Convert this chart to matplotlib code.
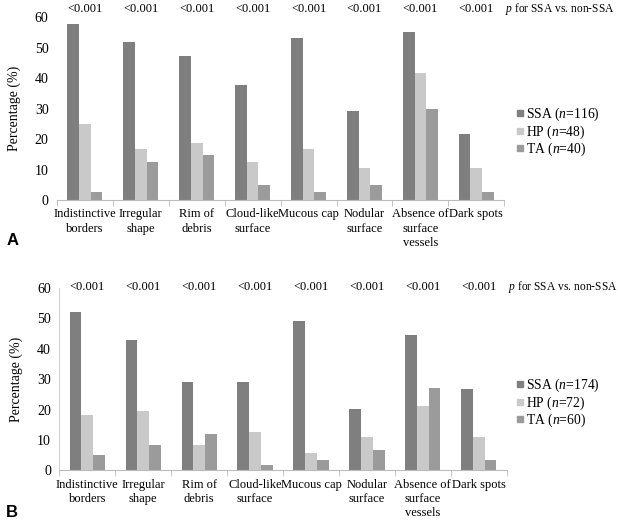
import numpy as np
import matplotlib
matplotlib.use("Agg")
import matplotlib.pyplot as plt
from matplotlib.lines import Line2D

plt.rcParams['font.family'] = ['Liberation Serif', 'DejaVu Serif']
plt.rcParams['mathtext.fontset'] = 'custom'
plt.rcParams['mathtext.rm'] = 'Liberation Serif'
plt.rcParams['mathtext.it'] = 'Liberation Serif:italic'

categories = ["Indistinctive\nborders", "Irregular\nshape", "Rim of\ndebris",
              "Cloud-like\nsurface", "Mucous cap", "Nodular\nsurface",
              "Absence of\nsurface\nvessels", "Dark spots"]
p_values = ["<0.001"] * 8

# panel A
ssa_a = [57.8, 51.7, 47.4, 37.8, 53.3, 29.3, 55.3, 21.6]
hp_a = [25.0, 16.6, 18.8, 12.4, 16.6, 10.4, 41.7, 10.4]
ta_a = [2.5, 12.4, 14.9, 4.9, 2.5, 5.0, 30.0, 2.5]
labels_a = ["SSA ($n$=116)", "HP ($n$=48)", "TA ($n$=40)"]

# panel B
ssa_b = [51.9, 42.8, 28.9, 28.9, 49.2, 20.2, 44.5, 26.6]
hp_b = [18.3, 19.6, 8.4, 12.6, 5.7, 11.1, 21.0, 11.1]
ta_b = [5.1, 8.4, 11.8, 1.7, 3.4, 6.8, 26.9, 3.4]
labels_b = ["SSA ($n$=174)", "HP ($n$=72)", "TA ($n$=60)"]

colors = ["#7f7f7f", "#c9c9c9", "#9b9b9b"]

fig = plt.figure(figsize=(6.18, 5.21), dpi=100)


def panel(rect, series, labels, letter, letter_y, leg_y, spine_left, p_y):
    ax = fig.add_axes(rect)
    x = np.arange(len(categories))
    w = 0.21
    for i, vals in enumerate(series):
        ax.bar(x + (i - 1) * w, vals, w, color=colors[i], linewidth=0)
    ax.set_xlim(-0.5, len(categories) - 0.5)
    ax.set_ylim(0, 60)
    ax.set_yticks(range(0, 61, 10))
    ax.set_xticks(x)
    ax.set_xticklabels(categories, fontsize=9, linespacing=1.25, va='top')
    ax.tick_params(axis='x', length=0, pad=6)
    ax.set_xticks(np.arange(-0.5, len(categories)), minor=True)
    ax.tick_params(axis='x', which='minor', length=4, color='#bbbbbb', direction='out')
    ax.tick_params(axis='y', length=0, labelsize=10, pad=6)
    for s in ['top', 'right']:
        ax.spines[s].set_visible(False)
    ax.spines['left'].set_visible(spine_left)
    ax.spines['left'].set_color('#d0d0d0')
    ax.spines['bottom'].set_color('#bbbbbb')
    ax.set_ylabel("Percentage (%)", fontsize=10, labelpad=10)
    for xi, p in zip(x, p_values):
        ax.text(xi, p_y, p, ha='center', va='center', fontsize=9)
    ax.text(len(categories) - 0.48, p_y, "$p$ for SSA vs. non-SSA",
            ha='left', va='center', fontsize=8.3)
    handles = [Line2D([], [], marker='s', color=c, linestyle='none', markersize=4)
               for c in colors]
    fig.legend(handles, labels, loc='upper left', bbox_to_anchor=(0.822, leg_y),
               frameon=False, fontsize=9.8, handletextpad=0.0, labelspacing=0.02,
               handlelength=0.8, borderpad=0)
    fig.text(0.01, letter_y, letter, fontsize=12, fontweight='bold',
             family='Liberation Sans')
    return ax


panel([0.092, 0.616, 0.724, 0.351], [ssa_a, hp_a, ta_a], labels_a, "A", 0.53, 0.810, False, 62.7)
panel([0.096, 0.097, 0.724, 0.351], [ssa_b, hp_b, ta_b], labels_b, "B", 0.008, 0.290, True, 60.3)

fig.savefig("out.png", dpi=100)
